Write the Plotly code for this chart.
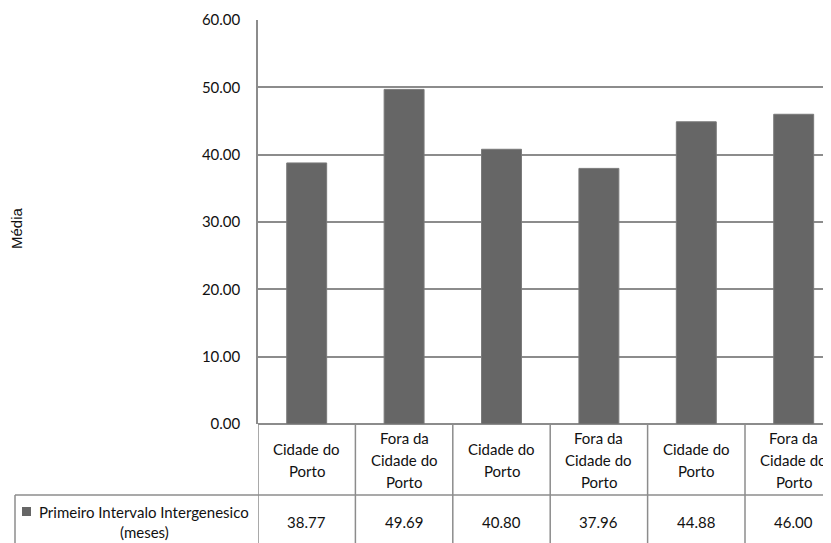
import plotly.graph_objects as go

categories = ["Cidade do<br>Porto", "Fora da<br>Cidade do<br>Porto", "Cidade do<br>Porto",
              "Fora da<br>Cidade do<br>Porto", "Cidade do<br>Porto", "Fora da<br>Cidade do<br>Porto"]
values = [38.77, 49.69, 40.80, 37.96, 44.88, 46.00]
series_name = "Primeiro Intervalo Intergenesico<br>(meses)"
y_title = "Média"
y_ticks = [0, 10, 20, 30, 40, 50, 60]

# page body margin offsets the figure by 8px; compensate
OFF = 8
VW, VH = 831, 543
W, H = VW - OFF, VH - OFF
def px(x):
    return (x - OFF) / W
def py(y):
    return 1 - (y - OFF) / H

FONT = "Lato"
TXT = "#111111"
GRID = "#8c8c8c"
BAR = "#666666"

x_left = 258
cat_w = 97.4
x_right_cat = -0.5 + (VW - x_left) / cat_w

xs = list(range(len(values)))

fig = go.Figure()
fig.add_trace(go.Bar(x=xs, y=values, width=0.41,
                     marker=dict(color=BAR, line=dict(color="#7a7a7a", width=1)),
                     showlegend=False))

shapes = []
# vertical table lines
for i in range(len(values) + 1):
    shapes.append(dict(type="line", xref="x", yref="paper",
                       x0=-0.5 + i, x1=-0.5 + i, y0=0, y1=py(424),
                       line=dict(color=GRID, width=1.5)))
# horizontal line between header and data row
shapes.append(dict(type="line", xref="paper", yref="paper",
                   x0=px(15), x1=1, y0=py(495), y1=py(495),
                   line=dict(color=GRID, width=1.5)))
# legend cell left border
shapes.append(dict(type="line", xref="paper", yref="paper",
                   x0=px(15), x1=px(15), y0=0, y1=py(495),
                   line=dict(color=GRID, width=1.5)))
# legend key
shapes.append(dict(type="rect", xref="paper", yref="paper",
                   x0=px(22), x1=px(31), y0=py(516), y1=py(507),
                   fillcolor=BAR, line=dict(width=0)))

annotations = []
for i, cat in enumerate(categories):
    lines = cat.split("<br>")
    n = len(lines)
    for j, ln in enumerate(lines):
        yc = 460 + (j - (n - 1) / 2) * 22
        annotations.append(dict(text=ln, xref="x", yref="paper", x=i, y=py(yc),
                                showarrow=False, xanchor="center", yanchor="middle",
                                font=dict(family=FONT, size=15, color=TXT)))
    annotations.append(dict(text=f"{values[i]:.2f}", xref="x", yref="paper", x=i, y=py(522),
                            showarrow=False, xanchor="center", yanchor="middle",
                            font=dict(family=FONT, size=15, color=TXT)))

s_lines = series_name.split("<br>")
for j, ln in enumerate(s_lines):
    annotations.append(dict(text=ln, xref="paper", yref="paper", x=px(144), y=py(512 + 20 * j),
                            showarrow=False, xanchor="center", yanchor="middle",
                            font=dict(family=FONT, size=15, color=TXT)))

annotations.append(dict(text=y_title, xref="paper", yref="paper", x=px(16), y=py(228),
                        textangle=-90, showarrow=False, xanchor="center", yanchor="middle",
                        font=dict(family="Liberation Sans", size=15, color=TXT)))

fig.update_layout(
    width=W, height=H,
    margin=dict(l=0, r=0, t=0, b=0, autoexpand=False),
    paper_bgcolor="white", plot_bgcolor="white",
    bargap=0.59,
    xaxis=dict(domain=[px(x_left), 1], range=[-0.5, x_right_cat], automargin=False,
               showticklabels=False, showgrid=False, zeroline=False,
               showline=False, fixedrange=True),
    yaxis=dict(domain=[py(424), py(20)], range=[0, 60], automargin=False,
               tickvals=y_ticks, ticktext=[f"{v:.2f}" for v in y_ticks],
               showgrid=True, gridcolor=GRID, gridwidth=1.5,
               zeroline=True, zerolinecolor=GRID, zerolinewidth=1.5,
               showline=True, linecolor=GRID, linewidth=1.5,
               ticks="", ticklabelstandoff=13,
               tickfont=dict(family=FONT, size=15, color=TXT)),
    shapes=shapes,
    annotations=annotations,
    showlegend=False,
)

fig.write_html("out.html")
